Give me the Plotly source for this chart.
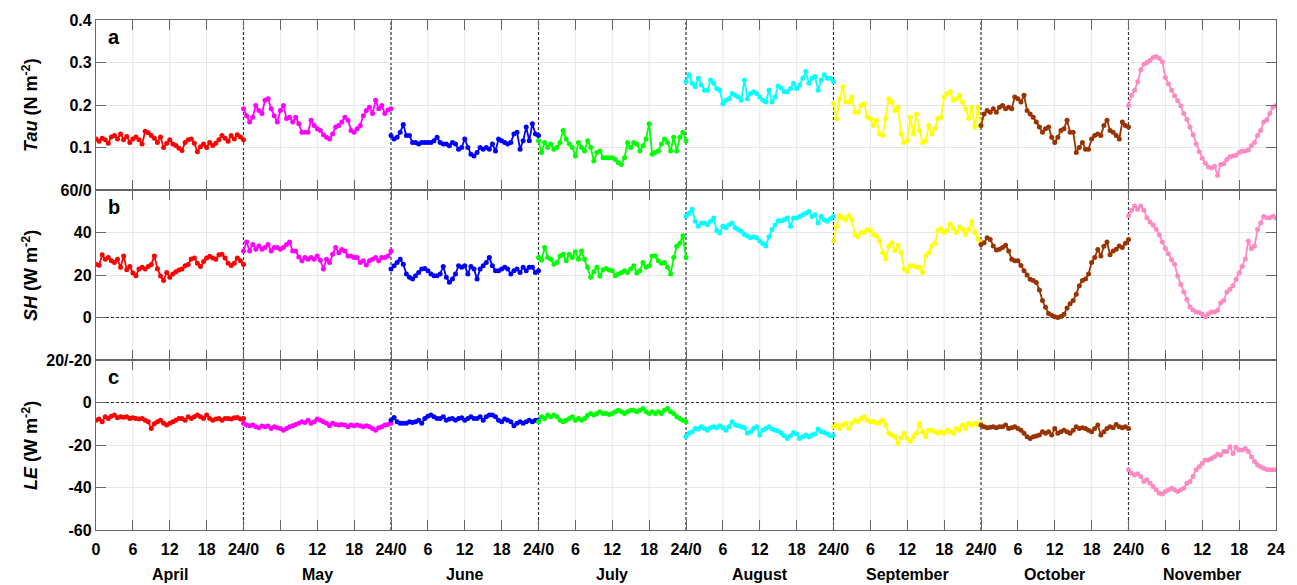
import numpy as np
import plotly.graph_objects as go
from plotly.subplots import make_subplots

MONTHS = ["April", "May", "June", "July", "August", "September", "October", "November"]
COLORS = ["#FF0000", "#FF00FF", "#0000FF", "#00FF00", "#00FFFF", "#FFFF00", "#993300", "#FF8AC3"]

TAU_APR = [0.120,0.115,0.122,0.118,0.110,0.125,0.128,0.120,0.132,0.118,0.126,0.112,0.120,0.125,0.118,0.108,0.138,0.135,0.128,0.122,0.112,0.125,0.100,0.110,0.118,0.108,0.105,0.098,0.093,0.112,0.118,0.120,0.110,0.090,0.102,0.108,0.100,0.112,0.105,0.110,0.118,0.128,0.122,0.115,0.128,0.120,0.130,0.125,0.118]
TAU_MAY = [0.191,0.175,0.160,0.171,0.199,0.187,0.180,0.211,0.215,0.191,0.175,0.160,0.187,0.199,0.168,0.171,0.160,0.171,0.156,0.136,0.136,0.136,0.164,0.152,0.144,0.140,0.130,0.124,0.120,0.132,0.148,0.152,0.160,0.171,0.164,0.140,0.136,0.144,0.152,0.175,0.187,0.195,0.180,0.211,0.191,0.199,0.180,0.188,0.191]
TAU_JUN = [0.128,0.120,0.124,0.136,0.154,0.128,0.128,0.112,0.112,0.108,0.112,0.112,0.112,0.112,0.116,0.124,0.112,0.108,0.108,0.104,0.112,0.108,0.096,0.100,0.120,0.100,0.084,0.080,0.088,0.100,0.096,0.100,0.096,0.108,0.092,0.120,0.116,0.112,0.108,0.112,0.132,0.136,0.096,0.116,0.148,0.116,0.156,0.132,0.128]
TAU_JUL = [0.116,0.088,0.112,0.100,0.108,0.096,0.100,0.112,0.140,0.120,0.108,0.100,0.080,0.112,0.100,0.092,0.116,0.100,0.068,0.088,0.092,0.076,0.076,0.076,0.076,0.072,0.064,0.060,0.076,0.112,0.100,0.112,0.108,0.092,0.104,0.120,0.156,0.084,0.088,0.092,0.108,0.120,0.112,0.092,0.124,0.092,0.124,0.136,0.116]
TAU_AUG = [0.255,0.271,0.251,0.243,0.263,0.247,0.235,0.235,0.259,0.251,0.239,0.235,0.203,0.211,0.215,0.227,0.223,0.219,0.211,0.259,0.215,0.227,0.231,0.227,0.219,0.211,0.207,0.235,0.207,0.219,0.245,0.240,0.231,0.231,0.239,0.251,0.239,0.247,0.263,0.279,0.251,0.263,0.267,0.235,0.259,0.271,0.263,0.263,0.255]
TAU_SEP = [0.203,0.168,0.215,0.243,0.207,0.207,0.219,0.183,0.183,0.199,0.203,0.171,0.168,0.152,0.164,0.132,0.128,0.168,0.215,0.207,0.187,0.195,0.132,0.112,0.116,0.171,0.132,0.179,0.140,0.112,0.116,0.152,0.132,0.144,0.168,0.171,0.219,0.227,0.231,0.211,0.215,0.223,0.207,0.191,0.168,0.195,0.148,0.195,0.152]
TAU_OCT = [0.152,0.179,0.187,0.183,0.191,0.183,0.195,0.199,0.191,0.195,0.191,0.219,0.215,0.207,0.223,0.187,0.179,0.171,0.160,0.148,0.136,0.144,0.148,0.124,0.112,0.124,0.140,0.144,0.164,0.136,0.136,0.088,0.100,0.112,0.096,0.096,0.120,0.128,0.132,0.128,0.152,0.164,0.140,0.136,0.128,0.120,0.160,0.152,0.148]
TAU_NOV = [0.199,0.223,0.235,0.255,0.283,0.296,0.300,0.305,0.312,0.314,0.310,0.302,0.265,0.250,0.235,0.222,0.210,0.198,0.180,0.166,0.148,0.130,0.108,0.090,0.075,0.063,0.054,0.052,0.056,0.035,0.060,0.062,0.072,0.078,0.080,0.082,0.088,0.092,0.092,0.094,0.104,0.112,0.128,0.140,0.160,0.165,0.180,0.195,0.199]

SH_APR = [25.1,24.6,29.5,27.4,28.2,26.7,25.9,27.4,23.6,29.0,22.5,24.0,21.0,19.7,22.8,23.6,22.8,24.0,25.0,29.0,23.0,19.5,17.4,21.2,19.0,20.5,21.5,22.3,22.8,24.3,25.0,27.5,28.0,25.5,24.0,26.3,28.0,28.8,28.0,27.4,29.5,29.8,28.0,25.5,24.5,25.5,28.0,26.7,25.0]
SH_MAY = [31.3,35.5,31.3,34.4,32.1,33.6,32.1,32.9,34.4,31.3,32.9,32.9,32.1,32.9,34.4,35.5,31.3,31.3,28.5,26.7,28.2,27.4,28.2,27.4,29.0,27.0,22.8,27.4,25.9,29.8,33.0,30.5,32.0,31.3,29.0,29.0,28.2,28.2,25.9,26.7,24.7,26.7,27.4,28.2,26.7,28.2,28.2,29.0,31.3]
SH_JUN = [22.8,24.3,25.9,27.4,25.1,20.5,18.9,18.1,19.7,21.2,22.8,23.1,22.0,20.5,19.7,19.7,20.5,24.0,18.9,16.6,18.1,20.5,24.3,23.6,24.3,20.5,24.0,22.8,18.1,22.8,24.3,25.9,28.2,24.3,22.0,22.0,22.8,23.6,22.8,20.5,22.0,22.8,21.2,23.6,22.0,23.6,23.6,21.2,22.0]
SH_JUL = [28.2,27.0,33.0,28.2,27.4,25.1,25.9,29.0,29.8,26.7,29.8,28.2,31.0,27.4,31.3,27.4,23.6,18.9,21.5,23.6,19.5,22.5,23.1,22.4,22.0,19.7,20.5,21.2,22.0,21.2,22.8,24.3,21.0,22.0,25.9,23.6,24.3,29.0,29.0,26.7,25.5,25.9,23.6,20.5,28.2,33.5,35.0,38.5,28.2]
SH_AUG = [47.6,49.1,51.0,45.3,42.9,44.5,44.5,43.7,45.3,46.8,41.0,39.8,42.9,42.2,43.7,44.5,42.2,41.4,40.6,39.1,38.3,37.5,38.0,37.5,36.0,34.8,33.6,38.0,41.4,43.5,45.5,45.5,46.0,46.8,43.0,46.8,46.8,47.5,48.4,49.1,49.9,47.5,48.4,44.5,47.6,46.0,45.3,46.5,47.6]
SH_SEP = [36.0,43.0,48.0,47.0,46.0,48.0,46.0,39.0,38.0,40.0,40.0,41.4,41.0,39.1,38.3,36.0,30.5,27.4,33.6,35.2,31.5,34.0,30.5,23.0,21.5,24.3,24.3,23.6,23.6,21.2,29.0,30.5,33.6,35.0,41.0,41.8,40.0,41.0,44.0,42.0,40.0,42.5,41.5,39.1,41.4,45.3,40.0,37.0,35.5]
SH_OCT = [34.4,35.2,37.5,36.7,33.6,31.8,32.1,32.9,34.0,31.3,27.4,26.7,26.7,24.5,22.0,20.0,18.0,17.4,16.5,13.0,8.0,4.8,1.9,1.1,0.4,0.0,0.5,1.5,4.5,6.5,8.0,11.0,15.0,17.4,18.1,20.5,25.9,28.2,32.0,29.0,33.5,35.5,29.5,31.3,32.1,33.6,32.9,35.0,36.7]
SH_NOV = [48.0,50.5,52.5,51.0,52.5,50.5,47.0,45.0,43.5,41.5,39.0,35.5,32.5,30.0,27.2,25.1,19.5,15.5,12.0,8.5,5.0,3.5,2.6,2.3,1.5,0.3,1.8,2.6,2.6,3.4,7.0,8.0,12.0,13.3,15.0,18.0,21.0,24.0,27.5,36.0,32.5,33.6,41.4,44.5,47.5,47.0,47.0,47.6,46.8]

LE_APR = [-8.3,-7.8,-9.1,-6.7,-7.5,-6.5,-5.9,-7.2,-6.7,-6.9,-6.7,-7.5,-7.2,-7.5,-7.8,-7.5,-8.3,-9.1,-12.2,-10.0,-9.0,-8.3,-9.8,-10.6,-9.8,-9.1,-8.3,-7.5,-7.5,-8.3,-6.7,-7.5,-6.7,-5.9,-6.7,-7.5,-5.9,-7.5,-8.3,-7.8,-7.5,-8.3,-7.5,-7.5,-7.8,-7.2,-7.0,-7.8,-7.5]
LE_MAY = [-9.8,-10.6,-10.9,-10.6,-11.4,-11.9,-11.0,-11.4,-11.0,-12.2,-11.4,-11.9,-12.2,-13.0,-12.2,-11.4,-10.9,-10.3,-9.8,-9.1,-9.4,-8.3,-9.8,-9.1,-7.8,-8.3,-9.1,-9.8,-10.9,-9.8,-10.3,-10.6,-10.3,-10.6,-11.4,-10.6,-10.9,-10.6,-10.9,-11.4,-10.9,-11.4,-12.2,-13.0,-11.9,-11.4,-10.6,-10.3,-9.8]
LE_JUN = [-8.3,-7.0,-9.1,-9.8,-9.8,-9.8,-9.1,-9.4,-9.1,-8.3,-9.8,-7.5,-6.5,-5.9,-6.7,-7.5,-7.5,-6.7,-8.3,-7.8,-7.5,-8.3,-7.5,-7.2,-8.3,-7.5,-6.7,-7.5,-7.5,-6.7,-8.3,-6.7,-5.9,-5.9,-6.7,-8.3,-9.1,-7.8,-8.3,-9.1,-10.9,-9.8,-9.1,-9.8,-9.1,-8.3,-9.1,-8.3,-8.3]
LE_JUL = [-9.1,-6.7,-7.5,-5.9,-6.7,-5.9,-6.7,-8.3,-9.1,-8.3,-7.5,-6.7,-8.3,-7.5,-8.3,-7.5,-6.0,-5.2,-5.9,-5.2,-4.4,-5.2,-5.2,-5.6,-5.2,-4.4,-3.6,-4.4,-5.2,-4.4,-3.6,-3.6,-4.4,-3.6,-2.8,-4.4,-5.2,-4.4,-5.2,-4.4,-5.2,-3.6,-2.8,-4.4,-5.2,-6.7,-7.5,-8.3,-9.1]
LE_AUG = [-16.1,-14.5,-13.8,-12.2,-12.5,-11.4,-12.2,-13.0,-11.9,-11.4,-11.9,-10.9,-11.9,-13.0,-11.4,-9.1,-10.6,-10.9,-11.4,-11.9,-14.5,-13.8,-12.2,-11.4,-15.3,-13.0,-12.2,-11.4,-12.5,-13.0,-13.4,-14.5,-15.6,-16.9,-15.6,-14.1,-14.8,-16.9,-16.1,-15.3,-16.1,-15.3,-14.8,-12.5,-13.8,-14.1,-14.8,-15.6,-15.5]
LE_SEP = [-11.4,-10.6,-12.2,-10.6,-9.8,-12.2,-9.8,-8.3,-8.8,-7.5,-6.7,-8.3,-9.1,-8.8,-9.8,-9.4,-8.3,-10.6,-14.5,-15.3,-16.1,-19.2,-16.6,-14.5,-16.9,-18.4,-16.1,-14.5,-9.8,-13.8,-16.1,-13.0,-13.0,-13.8,-14.5,-13.8,-14.5,-13.0,-13.8,-14.5,-12.2,-13.0,-10.6,-12.2,-9.8,-10.6,-9.8,-10.3,-9.8]
LE_OCT = [-10.6,-11.4,-11.9,-11.6,-11.4,-11.9,-11.4,-11.4,-10.6,-12.2,-11.9,-11.4,-12.2,-13.0,-14.5,-16.1,-16.9,-16.1,-15.8,-15.3,-13.8,-14.5,-13.8,-15.3,-12.2,-14.5,-13.8,-13.0,-13.8,-14.5,-13.0,-11.4,-12.2,-11.9,-12.2,-13.0,-13.8,-12.2,-10.6,-15.3,-13.8,-12.2,-11.4,-11.9,-10.3,-11.4,-11.9,-11.4,-12.2]
LE_NOV = [-31.7,-33.3,-34.1,-33.5,-34.8,-37.2,-36.4,-38.0,-39.5,-41.1,-42.7,-43.1,-41.9,-41.1,-40.3,-41.1,-41.9,-41.1,-40.3,-38.0,-37.2,-34.8,-31.7,-30.2,-28.6,-27.0,-27.0,-26.3,-25.5,-24.3,-24.7,-23.1,-23.1,-20.8,-24.0,-21.0,-22.3,-22.3,-21.6,-23.1,-25.5,-27.8,-29.4,-30.2,-30.9,-31.5,-31.7,-31.7,-31.7]

TAU = [TAU_APR, TAU_MAY, TAU_JUN, TAU_JUL, TAU_AUG, TAU_SEP, TAU_OCT, TAU_NOV]
SH = [SH_APR, SH_MAY, SH_JUN, SH_JUL, SH_AUG, SH_SEP, SH_OCT, SH_NOV]
LE = [LE_APR, LE_MAY, LE_JUN, LE_JUL, LE_AUG, LE_SEP, LE_OCT, LE_NOV]

FONT = "Liberation Sans, Arial, sans-serif"
AXC = "#666666"
GRID = "#e6e6e6"
DASHC = "#333333"
XMAX = 24 * len(MONTHS)

fig = make_subplots(rows=3, cols=1, shared_xaxes=True, vertical_spacing=0)

for row, series in enumerate([TAU, SH, LE], start=1):
    for m, vals in enumerate(series):
        x = 24 * m + np.linspace(0, 24, len(vals))
        fig.add_trace(go.Scatter(
            x=x, y=vals, mode="lines+markers",
            line=dict(color=COLORS[m], width=1.8),
            marker=dict(color=COLORS[m], size=5),
            showlegend=False, hoverinfo="skip"), row=row, col=1)

tickvals = list(range(0, XMAX + 1, 6))
ticktext = []
for v in tickvals:
    h = v % 24
    if v == 0:
        ticktext.append("0")
    elif v == XMAX:
        ticktext.append("24")
    elif h == 0:
        ticktext.append("24/0")
    else:
        ticktext.append(str(h))
grid_x = [v for v in tickvals if v % 24 != 0]

tickfont = dict(family=FONT, size=16, color="black", weight="bold")

for r in range(1, 4):
    fig.update_xaxes(row=r, col=1, range=[0, XMAX], tickvals=tickvals,
                     ticktext=ticktext, showticklabels=(r == 3), ticks="inside",
                     ticklen=10, tickcolor=AXC, tickwidth=1, showline=True,
                     linecolor=AXC, linewidth=1.3, mirror="ticks",
                     showgrid=False, zeroline=False, tickfont=tickfont,
                     ticklabelstandoff=5)

fig.update_yaxes(row=1, col=1, range=[0, 0.4], tickvals=[0.1, 0.2, 0.3, 0.4],
                 ticktext=["0.1", "0.2", "0.3", "0.4"])
fig.update_yaxes(row=2, col=1, range=[-20, 60], tickvals=[0, 20, 40, 60],
                 ticktext=["0", "20", "40", "60/0"])
fig.update_yaxes(row=3, col=1, range=[-60, 20], tickvals=[-60, -40, -20, 0, 20],
                 ticktext=["-60", "-40", "-20", "0", "20/-20"])
for r in range(1, 4):
    fig.update_yaxes(row=r, col=1, ticks="inside", ticklen=10, tickcolor=AXC,
                     showline=True, linecolor=AXC, linewidth=1.3, mirror="ticks",
                     showgrid=True, gridcolor=GRID, gridwidth=1, zeroline=False,
                     tickfont=tickfont)

shapes = []
for v in grid_x:
    shapes.append(dict(type="line", xref="x", yref="paper", x0=v, x1=v, y0=0, y1=1,
                       line=dict(color=GRID, width=1), layer="below"))
for m in range(1, len(MONTHS)):
    shapes.append(dict(type="line", xref="x", yref="paper", x0=24 * m, x1=24 * m,
                       y0=0, y1=1, line=dict(color=DASHC, width=1.2, dash="3px,2px"),
                       layer="between"))
for xr, yr in [("x2", "y2"), ("x3", "y3")]:
    shapes.append(dict(type="line", xref=xr, yref=yr, x0=0, x1=XMAX, y0=0, y1=0,
                       line=dict(color=DASHC, width=1.2, dash="3px,2px"),
                       layer="between"))

annotations = []
for m, name in enumerate(MONTHS):
    annotations.append(dict(text="<b>%s</b>" % name, xref="x3", yref="paper",
                            x=24 * m + 12, y=-0.088, showarrow=False,
                            xanchor="center", yanchor="middle",
                            font=dict(family=FONT, size=16, color="black")))
for lab, yd in [("a", "y domain"), ("b", "y2 domain"), ("c", "y3 domain")]:
    annotations.append(dict(text="<b>%s</b>" % lab, xref="x", yref=yd, x=1.7, y=0.9,
                            showarrow=False, xanchor="left", yanchor="middle",
                            font=dict(family=FONT, size=20, color="black")))
titles = [("<b><i>Tau</i> (N m<sup>-2</sup>)</b>", "y domain"),
          ("<b><i>SH</i> (W m<sup>-2</sup>)</b>", "y2 domain"),
          ("<b><i>LE</i> (W m<sup>-2</sup>)</b>", "y3 domain")]
for t, yd in titles:
    annotations.append(dict(text=t, xref="paper", yref=yd, x=-0.056, y=0.5,
                            textangle=-90, showarrow=False, xanchor="center",
                            yanchor="middle",
                            font=dict(family=FONT, size=18, color="black")))

fig.update_layout(width=1297, height=585, margin=dict(l=96, r=16, t=19, b=55),
                  plot_bgcolor="white", paper_bgcolor="white",
                  shapes=shapes, annotations=annotations)

fig.write_html("out.html")
